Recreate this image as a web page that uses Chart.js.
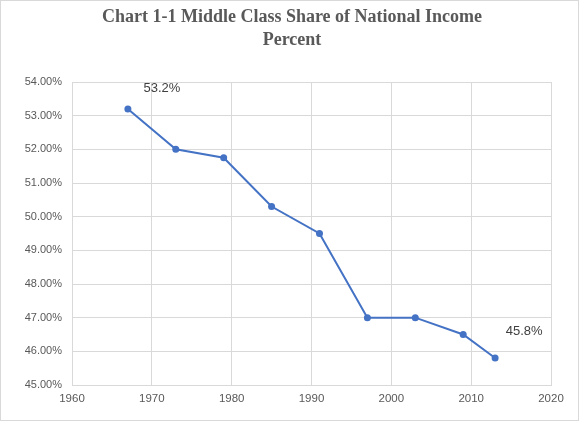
<!DOCTYPE html>
<html>
<head>
<meta charset="utf-8">
<script src="https://cdn.jsdelivr.net/npm/chart.js@4/dist/chart.umd.min.js"></script>
<style>
  html, body { margin: 0; padding: 0; background: #fff; }
  #wrap { width: 579px; height: 421px; }
</style>
</head>
<body>
<div id="wrap"><canvas id="chart"></canvas></div>
<script>
// Middle class share of national income, percent
const years = [1967, 1973, 1979, 1985, 1991, 1997, 2003, 2009, 2013];
const shares = [53.2, 52.0, 51.75, 50.3, 49.5, 47.0, 47.0, 46.5, 45.8];
const titleLines = ['Chart 1-1 Middle Class Share of National Income', 'Percent'];
const labelledPoints = { 0: '53.2%', 8: '45.8%' };

const gray = '#595959';
const gridColor = '#d9d9d9';

// title drawn by hand so it can sit centred over the whole frame
const titleBlock = {
  id: 'titleBlock',
  afterDraw(chart) {
    const ctx = chart.ctx;
    ctx.save();
    ctx.font = 'bold 18px "Liberation Serif", "Times New Roman", serif';
    ctx.fillStyle = gray;
    ctx.textAlign = 'center';
    ctx.textBaseline = 'middle';
    titleLines.forEach((line, i) => ctx.fillText(line, 292, 17 + i * 23));
    ctx.restore();
  }
};

// text labels next to first and last points
const pointLabels = {
  id: 'pointLabels',
  afterDatasetsDraw(chart) {
    const meta = chart.getDatasetMeta(0);
    const ctx = chart.ctx;
    ctx.save();
    ctx.font = '13px "Liberation Sans", Arial, sans-serif';
    ctx.fillStyle = '#404040';
    ctx.textAlign = 'center';
    ctx.textBaseline = 'middle';
    Object.keys(labelledPoints).forEach(i => {
      const pt = meta.data[i];
      if (i == 0) ctx.fillText(labelledPoints[i], pt.x + 34, pt.y - 21);
      else ctx.fillText(labelledPoints[i], pt.x + 29, pt.y - 27);
    });
    ctx.restore();
  }
};

const frame = {
  id: 'frame',
  afterDraw(chart) {
    const ctx = chart.ctx;
    ctx.save();
    ctx.strokeStyle = gridColor;
    ctx.lineWidth = 1;
    ctx.strokeRect(0.5, 0.5, chart.width - 1, chart.height - 1);
    ctx.restore();
  }
};

new Chart(document.getElementById('chart'), {
  type: 'line',
  data: {
    datasets: [{
      data: years.map((y, i) => ({ x: y, y: shares[i] })),
      borderColor: '#4472C4',
      backgroundColor: '#4472C4',
      borderWidth: 2,
      pointRadius: 3.5,
      pointBorderWidth: 0,
      tension: 0,
      fill: false
    }]
  },
  options: {
    responsive: true,
    maintainAspectRatio: false,
    animation: false,
    layout: { padding: { left: 0, right: 28, top: 82, bottom: 10 } },
    plugins: {
      legend: { display: false },
      tooltip: { enabled: false },
      title: { display: false }
    },
    scales: {
      x: {
        type: 'linear',
        min: 1960,
        max: 2020,
        ticks: {
          stepSize: 10,
          color: gray,
          font: { family: '"Liberation Sans", Arial, sans-serif', size: 11.5 },
          callback: v => String(v),
          maxRotation: 0,
          padding: 7
        },
        grid: { color: gridColor, drawTicks: false },
        border: { color: gridColor },
        afterFit(scale) { scale.height = 26; }
      },
      y: {
        min: 45,
        max: 54,
        ticks: {
          stepSize: 1,
          color: gray,
          font: { family: '"Liberation Sans", Arial, sans-serif', size: 11 },
          callback: v => v.toFixed(2) + '%',
          padding: 10
        },
        grid: { color: gridColor, drawTicks: false },
        border: { color: gridColor },
        afterFit(scale) { scale.width = 72; }
      }
    }
  },
  plugins: [titleBlock, pointLabels, frame]
});
</script>
</body>
</html>
